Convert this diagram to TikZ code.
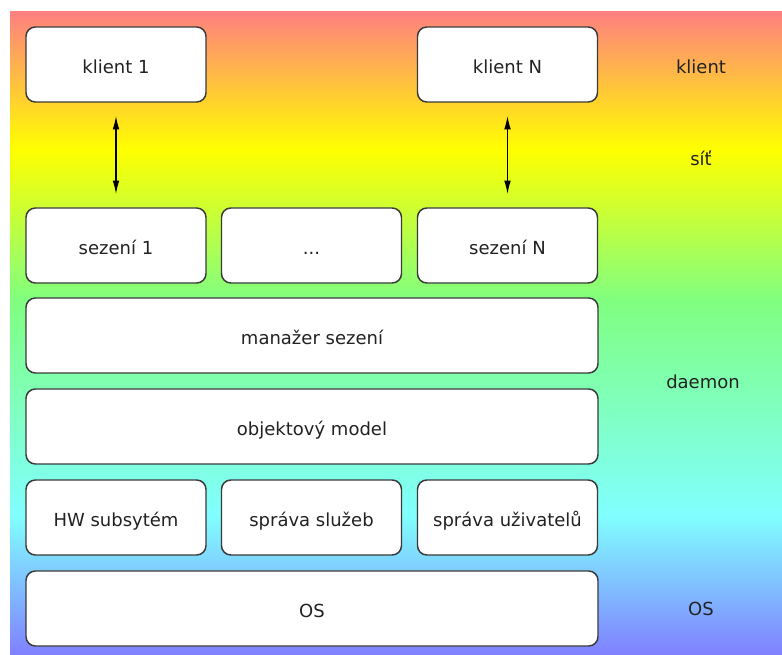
\documentclass[tikz,border=0pt]{standalone}
\usepackage{fontspec}
\setmainfont{DejaVu Sans}
\usetikzlibrary{arrows.meta}
\definecolor{bandred}{HTML}{FF8080}
\definecolor{bandyellow}{HTML}{FFFF00}
\definecolor{bandgreen}{HTML}{80FF80}
\definecolor{bandcyan}{HTML}{80FFFF}
\definecolor{bandblue}{HTML}{8080FF}
\definecolor{boxline}{HTML}{3A3A3A}
\definecolor{textgray}{HTML}{222222}
\pgfdeclareverticalshading{layerbands}{100bp}{color(0bp)=(bandblue); color(25bp)=(bandblue);
  color(35.9bp)=(bandcyan); color(52.6bp)=(bandgreen); color(64.3bp)=(bandyellow);
  color(75bp)=(bandred); color(100bp)=(bandred)}
\begin{document}
\begin{tikzpicture}[x=0.75pt,y=-0.75pt,
    layer/.style={draw=boxline,line width=1.1pt,fill=white,rounded corners=7pt,
      minimum width=135pt,minimum height=56.25pt,inner sep=0pt,text=textgray,
      text height=12.8pt,text depth=0pt,font=\fontsize{13.5}{16}\selectfont},
    wide/.style={layer,minimum width=429pt},
    tier/.style={text=textgray,font=\fontsize{13.5}{16}\selectfont},
    link/.style={line width=0.8pt,{Latex[length=10pt,width=5pt]}-{Latex[length=10pt,width=5pt]},
      shorten <=10pt,shorten >=10pt}]
  \useasboundingbox (0,0) rectangle (782,655);
  \shade[shading=layerbands] (10,12) rectangle (782,655);

  \node[layer] (klient1) at (116,64.5) {klient 1};
  \node[layer] (klientN) at (507.5,64.5) {klient N};
  \node[layer] (sezeni1) at (116,245.5) {sezení 1};
  \node[layer] (sezenidots) at (311.5,245.5) {...};
  \node[layer] (sezeniN) at (507.5,245.5) {sezení N};
  \node[wide] (manazer) at (312,335.5) {manažer sezení};
  \node[wide] (model) at (312,426.5) {objektový model};
  \node[layer] (hw) at (116,517.5) {HW subsytém};
  \node[layer] (sluzby) at (311.5,517.5) {správa služeb};
  \node[layer] (uzivatele) at (507.5,517.5) {správa uživatelů};
  \node[wide] (os) at (312,608.5) {OS};

  \draw[link] (klient1.south) -- (sezeni1.north);
  \draw[link] (klientN.south) -- (sezeniN.north);

  \node[tier] (tklient) at (701,67) {klient};
  \node[tier] (tsit) at (701,158) {síť};
  \node[tier] (tdaemon) at (703,382) {daemon};
  \node[tier] (tos) at (701,609) {OS};
\end{tikzpicture}
\end{document}
